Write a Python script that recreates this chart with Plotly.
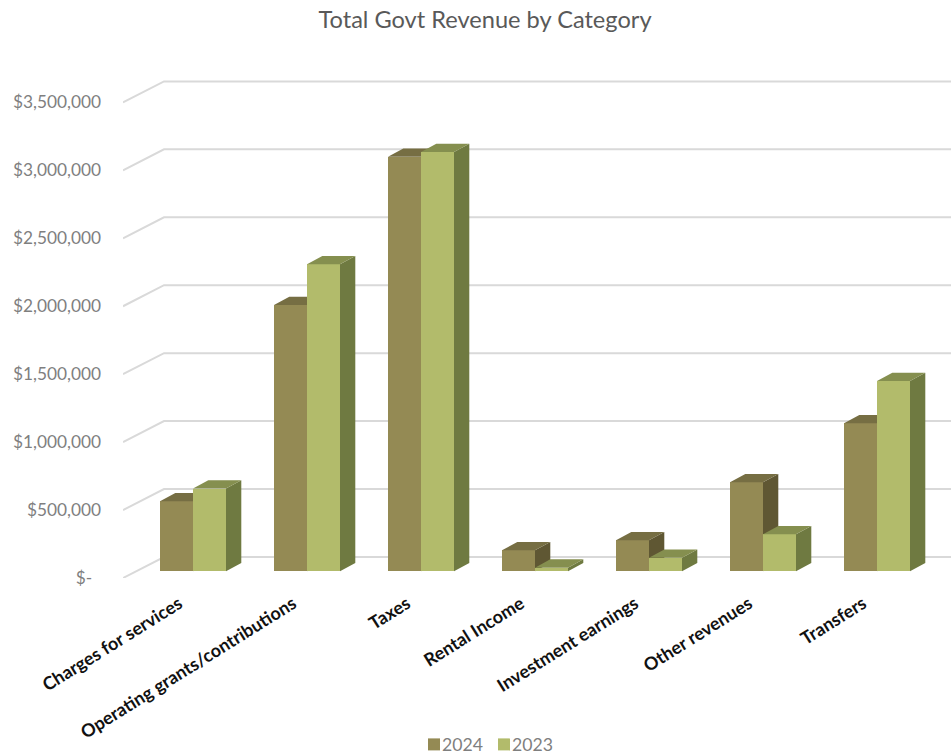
import plotly.graph_objects as go

# Chart values
categories = ["Charges for services", "Operating grants/contributions", "Taxes",
              "Rental Income", "Investment earnings", "Other revenues", "Transfers"]
revenue_2024 = [515000, 1960000, 3050000, 155000, 228000, 655000, 1090000]
revenue_2023 = [609000, 2260000, 3085000, 27000, 100000, 272000, 1400000]
axis_values = [0, 500000, 1000000, 1500000, 2000000, 2500000, 3000000, 3500000]
axis_labels = ["$-\u00a0\u00a0", "$500,000", "$1,000,000", "$1,500,000", "$2,000,000",
               "$2,500,000", "$3,000,000", "$3,500,000"]
series_names = ["2024", "2023"]
front_colors = ["#948A54", "#B2BB6B"]

# Canvas and projection, in pixels
W, H = 951, 755
PLOT_LEFT, PLOT_TOP, FLOOR_Y = 123, 60, 577.7
PX_PER_CATEGORY = 114.0
PX_PER_DOLLAR = 135.8e-6
FIRST_CENTER = 193.0
BAR_W = 33.0 / PX_PER_CATEGORY

# Oblique offsets converted to axis units
WALL_DX, WALL_DY = 41 / PX_PER_CATEGORY, 21 / PX_PER_DOLLAR
BAR_DX, BAR_DY = 15.3 / PX_PER_CATEGORY, 8.3 / PX_PER_DOLLAR
BAR_LIFT = (FLOOR_Y - 571) / PX_PER_DOLLAR

x_range = [(PLOT_LEFT - FIRST_CENTER) / PX_PER_CATEGORY, (W - FIRST_CENTER) / PX_PER_CATEGORY]
y_range = [0, (FLOOR_Y - PLOT_TOP) / PX_PER_DOLLAR]
positions = list(range(len(categories)))


def box_faces(values, left_edge):
    """Return closed outlines for the top and right faces of each bar."""
    side_x, side_y, top_x, top_y = [], [], [], []
    for pos, val in zip(positions, values):
        xl = pos + left_edge
        xr = xl + BAR_W
        base = BAR_LIFT
        top = BAR_LIFT + val
        side_x += [xr, xr + BAR_DX, xr + BAR_DX, xr, xr, None]
        side_y += [base, base + BAR_DY, top + BAR_DY, top, base, None]
        top_x += [xl, xr, xr + BAR_DX, xl + BAR_DX, xl, None]
        top_y += [top, top, top + BAR_DY, top + BAR_DY, top, None]
    return side_x, side_y, top_x, top_y


def add_series(fig, name, values, left_edge, front, side, top, xa, ya):
    side_x, side_y, top_x, top_y = box_faces(values, left_edge)
    for fx, fy, color in ((side_x, side_y, side), (top_x, top_y, top)):
        fig.add_trace(go.Scatter(x=fx, y=fy, mode="lines", fill="toself", fillcolor=color,
                                 line=dict(width=0, color=color), hoverinfo="skip",
                                 showlegend=False, xaxis=xa, yaxis=ya))
    fig.add_trace(go.Bar(name=name, x=[p + left_edge + BAR_W / 2 for p in positions], y=values,
                         base=BAR_LIFT, width=BAR_W, marker=dict(color=front, line_width=0),
                         showlegend=False, xaxis=xa, yaxis=ya))


fig = go.Figure()

# Gridlines: along the floor from the axis to the back wall, then across the wall
grid_x, grid_y = [], []
for v in axis_values:
    grid_x += [x_range[0], x_range[0] + WALL_DX, x_range[1], None]
    grid_y += [v, v + WALL_DY, v + WALL_DY, None]
fig.add_trace(go.Scatter(x=grid_x, y=grid_y, mode="lines", line=dict(color="#D9D9D9", width=2),
                         hoverinfo="skip", showlegend=False, cliponaxis=False))

# Each series sits on its own overlay so later bars hide the earlier ones' faces
add_series(fig, series_names[0], revenue_2024, -BAR_W, front_colors[0], "#5F5733", "#766E43", "x2", "y2")
add_series(fig, series_names[1], revenue_2023, 0, front_colors[1], "#6F7A41", "#858F4F", "x3", "y3")

# Compact key under the chart: swatch immediately followed by its label
key_shapes, key_notes = [], []
for name, color, swatch_left in zip(series_names, front_colors, (428, 498)):
    key_shapes.append(dict(type="rect", xref="paper", yref="paper",
                           x0=(swatch_left - PLOT_LEFT) / (W - PLOT_LEFT),
                           x1=(swatch_left + 12 - PLOT_LEFT) / (W - PLOT_LEFT),
                           y0=-(744 + 6 - FLOOR_Y) / (FLOOR_Y - PLOT_TOP),
                           y1=-(744 - 6 - FLOOR_Y) / (FLOOR_Y - PLOT_TOP),
                           fillcolor=color, line_width=0))
    key_notes.append(dict(text=name, xref="paper", yref="paper", showarrow=False,
                          x=(swatch_left + 12 - PLOT_LEFT) / (W - PLOT_LEFT), xanchor="left",
                          y=-(744 - FLOOR_Y) / (FLOOR_Y - PLOT_TOP), yanchor="middle",
                          font=dict(size=17.7, color="#7F7F7F")))

overlay_x = dict(overlaying="x", range=x_range, visible=False)
overlay_y = dict(overlaying="y", range=y_range, visible=False)
fig.update_layout(
    width=W, height=H, autosize=False,
    margin=dict(l=PLOT_LEFT, r=0, t=PLOT_TOP, b=H - FLOOR_Y, autoexpand=False),
    paper_bgcolor="white", plot_bgcolor="white", barmode="overlay", bargap=0,
    font=dict(family="Lato", color="#7F7F7F"),
    title=dict(text="Total Govt Revenue by Category", x=485 / W, xanchor="center",
               y=1 - 20 / H, yanchor="middle", font=dict(size=23.6, color="#595959")),
    xaxis=dict(range=x_range, tickmode="array", tickvals=positions, ticktext=categories,
               tickangle=-32, showgrid=False, zeroline=False, showline=False, ticks="",
               ticklabelstandoff=11, ticklabelshift=-14,
               tickfont=dict(family="Lato", size=18, color="#111111", weight=700)),
    yaxis=dict(range=y_range, tickmode="array", tickvals=axis_values, ticktext=axis_labels,
               showgrid=False, zeroline=False, showline=False, ticks="", ticklabelstandoff=21,
               tickfont=dict(size=17.3, color="#7F7F7F")),
    xaxis2=overlay_x, yaxis2=overlay_y, xaxis3=overlay_x, yaxis3=overlay_y,
    shapes=key_shapes, annotations=key_notes,
    showlegend=False,
)

fig.write_html("out.html", config=dict(displayModeBar=False))
